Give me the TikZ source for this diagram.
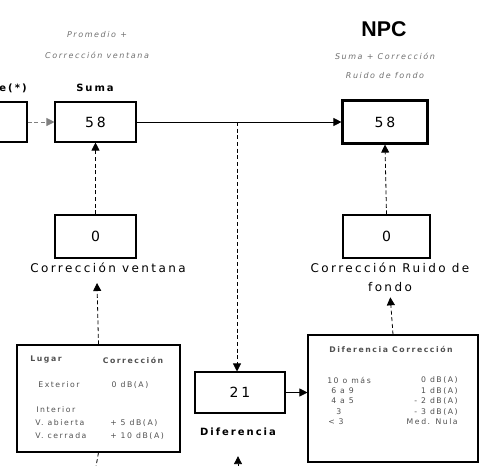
\documentclass[tikz,border=0pt]{standalone}
\usepackage{fontspec}
\setmainfont{DejaVu Sans}
\newfontfamily\trk{DejaVu Sans}[LetterSpace=20]
\newfontfamily\hdfont{Liberation Sans}
\usetikzlibrary{arrows.meta}
\definecolor{tabgray}{HTML}{505050}
\definecolor{subgray}{HTML}{707070}
\tikzset{
  box/.style={draw, line width=0.8pt, inner sep=0pt, font=\trk\fontsize{10.5}{12}\selectfont},
  lbl/.style={inner sep=1pt, font=\trk\fontsize{9}{14}\selectfont, align=center},
  blbl/.style={inner sep=1pt, font=\trk\bfseries\fontsize{7.5}{9}\selectfont},
  sub/.style={inner sep=0pt, font=\trk\itshape\fontsize{6}{7}\selectfont, text=subgray},
  tab/.style={inner sep=0pt, font=\trk\fontsize{5.8}{7}\selectfont, text=tabgray},
  tabb/.style={tab, font=\trk\bfseries\fontsize{5.8}{7}\selectfont},
  arr/.style={line width=0.6pt, -{Triangle[length=6pt,width=6pt]}},
  darr/.style={arr, dash pattern=on 3pt off 2pt},
}
\begin{document}
\begin{tikzpicture}[x=0.75pt,y=-0.75pt]
\useasboundingbox (0,0) rectangle (482,465);

% main boxes
\node[box, minimum width=27.75pt, minimum height=30pt] (src) at (8.5,122) {};
\node[box, minimum width=60.75pt, minimum height=30pt] (suma) at (95.5,122) {58};
\node[box, line width=1.6pt, minimum width=63.75pt, minimum height=32.25pt] (npc) at (385,122) {58};
\node[box, minimum width=60.75pt, minimum height=32.25pt] (c0l) at (95.5,236.5) {0};
\node[box, minimum width=65.25pt, minimum height=32.25pt] (c0r) at (386.5,236.5) {0};
\node[box, minimum width=67.5pt, minimum height=30.75pt] (dif) at (240,392.5) {21};
\node[box, minimum width=122.25pt, minimum height=80.25pt] (tl) at (98.5,398.5) {};
\node[box, minimum width=127.5pt, minimum height=95.25pt] (tr) at (393,398.5) {};

% labels
\node[blbl] (lsrc) at (13,88) {e(*)};
\node[blbl] (lsuma) at (95,88) {Suma};
\node[inner sep=0pt, font=\hdfont\bfseries\fontsize{16}{18}\selectfont] (lnpc) at (384,29) {NPC};
\node[sub] (s1) at (97,35) {Promedio +};
\node[sub] (s2) at (97,55) {Corrección ventana};
\node[sub] (s3) at (385,56) {Suma + Corrección};
\node[sub] (s4) at (385,76) {Ruido de fondo};
\node[lbl] (lv) at (108,268) {Corrección ventana};
\node[lbl] (lrf) at (390,277.5) {Corrección Ruido de\\fondo};
\node[blbl] (ldif) at (238,432) {Diferencia};

% left table
\node[tabb] (tl1) at (46,360) {Lugar};
\node[tabb] (tl2) at (133,360) {Corrección};
\node[tab] (tl3) at (59,385) {Exterior};
\node[tab] (tl4) at (130,385) {0 dB(A)};
\node[tab, anchor=west] (tl5) at (36,410) {Interior};
\node[tab, anchor=west] (tl6) at (35,423) {V. abierta};
\node[tab, anchor=west] (tl7) at (110,423) {+ 5 dB(A)};
\node[tab, anchor=west] (tl8) at (35,436) {V. cerrada};
\node[tab, anchor=west] (tl9) at (110,436) {+ 10 dB(A)};

% right table
\node[tabb] (tr0) at (391,349) {Diferencia Corrección};
\node[tab, anchor=west] (tra1) at (327,380) {10 o más};
\node[tab, anchor=west] (tra2) at (331,391) {6 a 9};
\node[tab, anchor=west] (tra3) at (331,401) {4 a 5};
\node[tab, anchor=west] (tra4) at (336,412) {3};
\node[tab, anchor=west] (tra5) at (328,422) {< 3};
\node[tab, anchor=east] (trb1) at (458,380) {0 dB(A)};
\node[tab, anchor=east] (trb2) at (458,391) {1 dB(A)};
\node[tab, anchor=east] (trb3) at (458,401) {- 2 dB(A)};
\node[tab, anchor=east] (trb4) at (458,412) {- 3 dB(A)};
\node[tab, anchor=east] (trb5) at (458,422) {Med. Nula};

% connectors
\coordinate (j) at (237,122);
\coordinate (tlout) at (95,472);
\coordinate (difin) at (238,480);
\coordinate (lvin) at (97,283);
\draw[darr, draw=gray] (src.east) -- (suma.west);
\draw[arr] (suma.east) -- (npc.west);
\draw[darr] (j) -- (j |- dif.north);
\draw[darr] (c0l.north) -- (suma.south);
\draw[darr] (tl.north) -- (lvin);
\draw[dash pattern=on 3pt off 2pt, line width=0.6pt] (tl.south) -- (tlout);
\draw[darr, shorten >=14pt] (difin) -- (ldif.south);
\draw[arr] (dif.east) -- (dif.east -| tr.west);
\draw[darr, shorten >=3pt] (tr.north) -- (lrf.south);
\draw[darr] (c0r.north) -- (npc.south);
\end{tikzpicture}
\end{document}
